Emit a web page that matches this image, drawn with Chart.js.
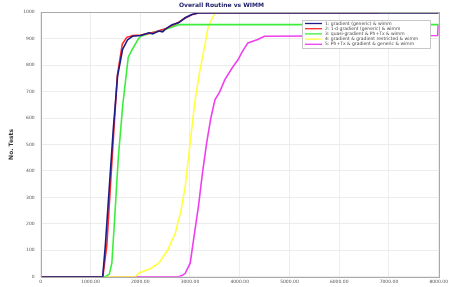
<!DOCTYPE html>
<html><head><meta charset="utf-8">
<script src="https://cdn.jsdelivr.net/npm/chart.js@4/dist/chart.umd.min.js"></script>
<style>html,body{margin:0;padding:0;background:#fff}#wrap{width:450px;height:287px}</style>
</head><body><div id="wrap"><canvas id="c" width="450" height="287"></canvas></div>
<script>
const titleText = "Overall Routine vs WIMM";
const yTitle = "No. Tests";
const seriesLabels = [
  "1: gradient (generic) & wimm",
  "2: 1-d gradient (generic) & wimm",
  "3: quasi-gradient & Ph+Tx & wimm",
  "4: gradient & gradient restricted & wimm",
  "5: Ph+Tx & gradient & generic & wimm"
];
const seriesColors = ["#1c1c8a", "#ff2a2a", "#3cee3c", "#ffff40", "#ee40ee"];
const xTicks = [0, 1000, 2000, 3000, 4000, 5000, 6000, 7000, 8000];
const yTicks = [0, 100, 200, 300, 400, 500, 600, 700, 800, 900, 1000];

const s1x = [0, 1246, 1300, 1380, 1460, 1545, 1645, 1745, 1843, 2010, 2175, 2250, 2374, 2450, 2507, 2640, 2772, 2905, 3037, 3170, 3502, 8000];
const s1y = [0, 0, 120, 341, 560, 758, 859, 895, 909, 912, 922, 918, 929, 926, 936, 953, 960, 979, 991, 997, 997, 997];
const s2x = [0, 1250, 1330, 1420, 1540, 1640, 1730, 1850, 2010, 2175, 2300, 2374, 2507, 2640, 2772, 2905, 3037, 3170, 3502, 6800];
const s2y = [0, 0, 120, 400, 760, 880, 905, 912, 914, 920, 925, 930, 937, 950, 962, 978, 990, 997, 998, 998];
const s3x = [0, 1300, 1380, 1430, 1480, 1560, 1650, 1760, 1843, 1950, 2010, 2200, 2500, 2772, 8000];
const s3y = [0, 0, 10, 51, 200, 450, 650, 830, 860, 895, 909, 920, 935, 953, 953];
const s4x = [0, 1900, 1976, 2200, 2374, 2550, 2706, 2820, 2905, 3000, 3104, 3200, 3270, 3369, 3502, 8000];
const s4y = [0, 0, 14, 30, 51, 100, 165, 250, 341, 500, 669, 780, 846, 947, 997, 997];
const s5x = [0, 2772, 2850, 2905, 3005, 3080, 3170, 3250, 3335, 3420, 3502, 3600, 3702, 3850, 3966, 4050, 4165, 4364, 4497, 7980, 7990, 8000];
const s5y = [0, 0, 5, 13, 51, 150, 265, 390, 505, 600, 669, 700, 745, 790, 820, 850, 884, 897, 909, 912, 953, 953];

const xs = [s1x, s2x, s3x, s4x, s5x];
const ys = [s1y, s2y, s3y, s4y, s5y];

const datasets = xs.map((xa, i) => ({
  label: seriesLabels[i],
  data: xa.map((x, j) => ({x: x, y: ys[i][j]})),
  borderColor: seriesColors[i],
  backgroundColor: seriesColors[i],
  borderWidth: 1.6,
  pointRadius: 0,
  tension: 0,
  fill: false
}));

const legendBox = {
  id: 'legendBox',
  afterDatasetsDraw(chart) {
    const ctx = chart.ctx;
    const x0 = 302, y0 = 20, w = 128, h = 28;
    ctx.save();
    ctx.fillStyle = '#fff';
    ctx.fillRect(x0, y0, w, h);
    ctx.strokeStyle = '#c8c8c8';
    ctx.lineWidth = 1;
    ctx.strokeRect(x0 + 0.5, y0 + 0.5, w, h);
    ctx.font = '4.5px "DejaVu Sans"';
    ctx.textBaseline = 'middle';
    seriesLabels.forEach((t, i) => {
      const yy = y0 + 3.5 + i * 5.2;
      ctx.strokeStyle = seriesColors[i];
      ctx.lineWidth = 1.3;
      ctx.beginPath(); ctx.moveTo(x0 + 3, yy); ctx.lineTo(x0 + 20, yy); ctx.stroke();
      ctx.fillStyle = '#444';
      ctx.fillText(t, x0 + 23, yy);
    });
    ctx.restore();
  }
};
const frame = {
  id: 'frame',
  afterDraw(chart) {
    const a = chart.chartArea, ctx = chart.ctx;
    ctx.save();
    ctx.strokeStyle = '#aaa'; ctx.lineWidth = 1;
    ctx.strokeRect(Math.round(a.left) + 0.5, Math.round(a.top) + 0.5, Math.round(a.right - a.left), Math.round(a.bottom - a.top));
    ctx.restore();
  }
};

new Chart(document.getElementById('c'), {
  type: 'line',
  data: { datasets },
  options: {
    responsive: false,
    animation: false,
    layout: { padding: { left: 0, right: 7, top: 0, bottom: 0 } },
    plugins: {
      legend: { display: false },
      tooltip: { enabled: false },
      title: { display: true, text: titleText, color: '#1a1a66', font: { size: 6, weight: 'bold', family: 'DejaVu Sans' }, padding: { top: 2, bottom: 3 } }
    },
    scales: {
      x: {
        type: 'linear', min: 0, max: 8000,
        afterBuildTicks: (s) => { s.ticks = xTicks.map(v => ({value: v})); },
        afterFit: (s) => { s.height = 10.3; },
        grid: { color: '#e8e8e8', lineWidth: 0.8, drawTicks: false },
        border: { display: false },
        ticks: { autoSkip: false, maxRotation: 0, padding: 2, color: '#555', font: { size: 4.5, family: 'DejaVu Sans' },
          callback: (v) => v === 0 ? '0' : Number(v).toFixed(2) }
      },
      y: {
        min: 0, max: 1000,
        afterBuildTicks: (s) => { s.ticks = yTicks.map(v => ({value: v})); },
        afterFit: (s) => { s.width = 40.7; },
        grid: { color: '#e8e8e8', lineWidth: 0.8, drawTicks: false },
        border: { display: false },
        title: { display: true, text: yTitle, color: '#333', font: { size: 6, weight: 'bold', family: 'DejaVu Sans' }, padding: { top: 8, bottom: 0 } },
        ticks: { autoSkip: false, padding: 6, color: '#555', font: { size: 4.5, family: 'DejaVu Sans' },
          callback: (v) => String(v) }
      }
    }
  },
  plugins: [legendBox, frame]
});
</script></body></html>
